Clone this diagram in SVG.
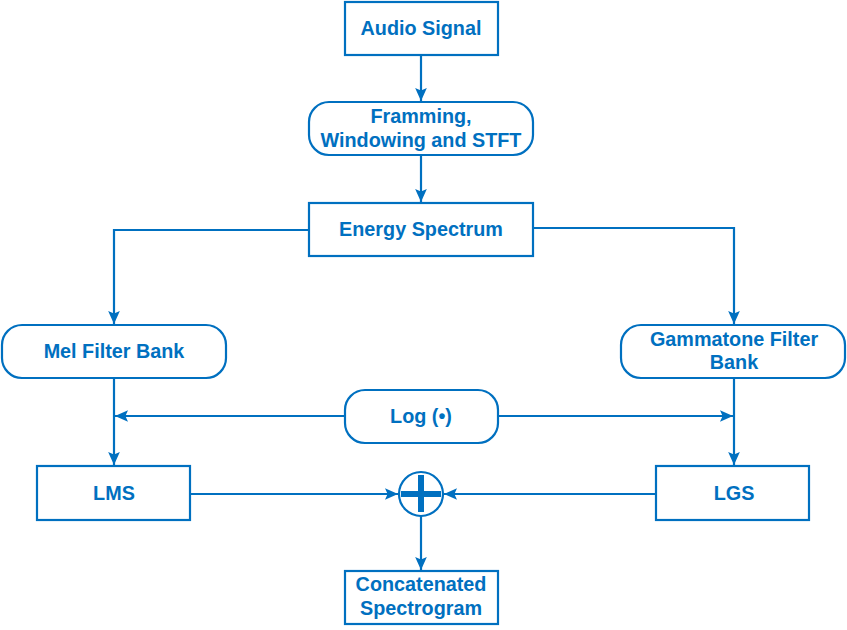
<svg xmlns="http://www.w3.org/2000/svg" width="847" height="630" viewBox="0 0 847 630">
<defs>
<marker id="ah" viewBox="0 0 10 10" refX="10" refY="5" markerWidth="13" markerHeight="13" markerUnits="userSpaceOnUse" orient="auto">
<path d="M0,0.5 L10,5 L0,9.5 L2,5 Z" fill="#0070C0"/>
</marker>
</defs>
<style>
.box{fill:#fff;stroke:#0070C0;stroke-width:2.2}
.t{font-family:"Liberation Sans",Arial,sans-serif;font-weight:bold;font-size:19.8px;fill:#0070C0;text-anchor:middle}
.c{fill:none;stroke:#0070C0;stroke-width:2.2}
</style>
<rect width="847" height="630" fill="#fff"/>
<g id="connectors" class="c">
<line x1="421" y1="55" x2="421" y2="101" marker-end="url(#ah)"/>
<line x1="421" y1="155" x2="421" y2="202" marker-end="url(#ah)"/>
<polyline points="309,230 114,230 114,324" marker-end="url(#ah)"/>
<polyline points="533,228 734,228 734,324" marker-end="url(#ah)"/>
<line x1="345" y1="416" x2="115" y2="416" marker-end="url(#ah)"/>
<line x1="498" y1="416" x2="733" y2="416" marker-end="url(#ah)"/>
<line x1="114" y1="378" x2="114" y2="465" marker-end="url(#ah)"/>
<line x1="734" y1="378" x2="734" y2="465" marker-end="url(#ah)"/>
<line x1="190" y1="494" x2="398" y2="494" marker-end="url(#ah)"/>
<line x1="656" y1="494" x2="444" y2="494" marker-end="url(#ah)"/>
<line x1="421" y1="516" x2="421" y2="570" marker-end="url(#ah)"/>
</g>
<g id="audio"><rect class="box" x="345" y="2" width="153" height="53"/><text class="t" x="421" y="35">Audio Signal</text></g>
<g id="framing"><rect class="box" x="309" y="102" width="224" height="53" rx="20"/><text class="t" x="421" y="123">Framming,</text><text class="t" x="421" y="147">Windowing and STFT</text></g>
<g id="energy"><rect class="box" x="309" y="203" width="224" height="53"/><text class="t" x="421" y="236">Energy Spectrum</text></g>
<g id="mel"><rect class="box" x="2" y="325" width="224" height="53" rx="20"/><text class="t" x="114" y="358">Mel Filter Bank</text></g>
<g id="gamma"><rect class="box" x="621" y="325" width="224" height="53" rx="20"/><text class="t" x="734" y="346">Gammatone Filter</text><text class="t" x="734" y="369">Bank</text></g>
<g id="log"><rect class="box" x="345" y="390" width="153" height="53" rx="20"/><text class="t" x="421" y="423">Log (•)</text></g>
<g id="lms"><rect class="box" x="37" y="466" width="153" height="54"/><text class="t" x="114" y="500">LMS</text></g>
<g id="lgs"><rect class="box" x="656" y="466" width="153" height="54"/><text class="t" x="734" y="500">LGS</text></g>
<g id="sum"><circle class="box" cx="421" cy="494" r="22"/><rect x="401" y="491" width="40" height="6" fill="#0070C0"/><rect x="418" y="475" width="6" height="37" fill="#0070C0"/></g>
<g id="concat"><rect class="box" x="345" y="571" width="153" height="53"/><text class="t" x="421" y="591">Concatenated</text><text class="t" x="421" y="615">Spectrogram</text></g>
</svg>
